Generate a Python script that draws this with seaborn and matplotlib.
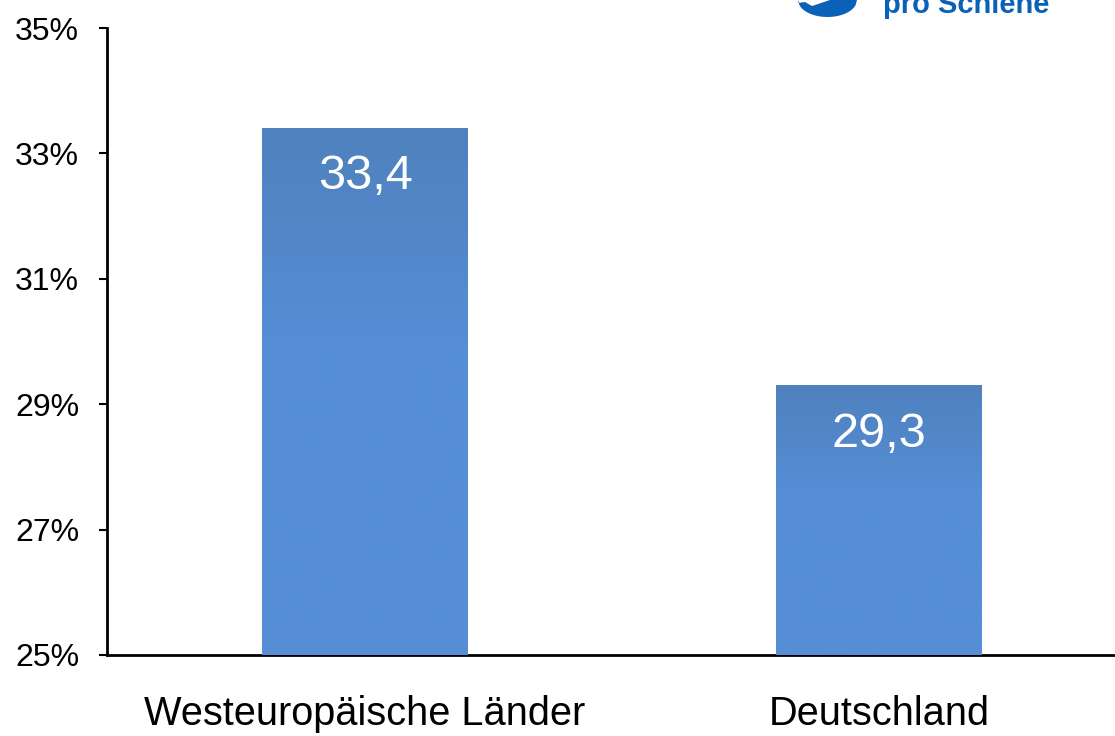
import numpy as np
import pandas as pd
import matplotlib
matplotlib.use("Agg")
import matplotlib.pyplot as plt
import seaborn as sns
from matplotlib.patches import Polygon

categories = ["Westeuropäische Länder", "Deutschland"]
values = [33.4, 29.3]
value_labels = ["33,4", "29,3"]
yticks = [25, 27, 29, 31, 33, 35]
ytick_labels = ["25%", "27%", "29%", "31%", "33%", "35%"]

sns.set_theme(style="white")
plt.rcParams["font.family"] = ["Liberation Sans", "DejaVu Sans"]

W, H = 1115, 736
fig = plt.figure(figsize=(W / 100, H / 100), dpi=100)
ax = fig.add_axes([107 / W, (H - 655) / H, (1115 - 107) / W, (655 - 28) / H])

df = pd.DataFrame({"cat": categories, "val": values})
sns.barplot(data=df, x="cat", y="val", color="#558ed5", width=0.4,
            saturation=1, ax=ax, zorder=2)

ax.set_ylim(25, 35)
ax.set_xlim(-0.502, 1.459)

# gradient overlay on bars
top_c = np.array([79, 129, 189]) / 255
bot_c = np.array([85, 142, 213]) / 255
n = 256
t = np.clip(np.linspace(0, 1, n) / 0.4, 0, 1)
grad = (top_c[None, :] * (1 - t[:, None]) + bot_c[None, :] * t[:, None])
grad_img = grad[:, None, :]
for p in ax.patches:
    x0, y0 = p.get_x(), p.get_y()
    w, h = p.get_width(), p.get_height()
    y_lo = max(y0, 25)
    im = ax.imshow(grad_img, extent=[x0, x0 + w, y_lo, y0 + h], aspect="auto",
                   origin="upper", zorder=3)
    im.set_clip_path(p)

ax.set_xlim(-0.502, 1.459)
ax.set_ylim(25, 35)

for i, (v, lab) in enumerate(zip(values, value_labels)):
    ax.annotate(lab, xy=(i, v), xytext=(0, -35), textcoords="offset points",
                ha="center", va="center", color="white", fontsize=35, zorder=5)

ax.set_yticks(yticks)
ax.set_yticklabels(ytick_labels, fontsize=23, color="black")
ax.set_xticks(range(len(categories)))
ax.set_xticklabels(categories, fontsize=28.6, color="black")
ax.set_xlabel("")
ax.set_ylabel("")
ax.tick_params(axis="y", which="both", direction="out", length=6, width=1.5,
               color="black", pad=14, left=True)
ax.tick_params(axis="x", length=0, pad=29)

for s in ["top", "right"]:
    ax.spines[s].set_visible(False)
for s in ["left", "bottom"]:
    ax.spines[s].set_color("black")
    ax.spines[s].set_linewidth(2)
ax.grid(False)

# partial logo at top (cut off by the frame)
logo_x = np.linspace(798, 857, 40)
cx, rx = (798 + 857) / 2, (857 - 798) / 2
logo_y = 17 * np.sqrt(np.clip(1 - ((logo_x - cx) / rx) ** 2, 0, 1))
inner_x = np.linspace(857, 812, 30)
inner_y = 8 - 8 * ((inner_x - 812) / 45) ** 2 * 0 + 0 * inner_x
pts = [(x / W, 1 - y / H) for x, y in zip(logo_x, logo_y)]
pts = pts + [(857 / W, 1 - 0 / H), (830 / W, 1 - 0 / H), (812 / W, 1 - 6 / H),
             (805 / W, 1 - 2 / H), (798 / W, 1 - 3 / H)]
fig.patches.append(Polygon(pts, closed=True, transform=fig.transFigure,
                           facecolor="#0a62b8", edgecolor="none"))
fig.text(966 / W, 1 - 13 / H, "pro Schiene", ha="center", va="baseline",
         fontsize=21, fontweight="bold", color="#0a62b8")

fig.savefig("out.png", dpi=100)
